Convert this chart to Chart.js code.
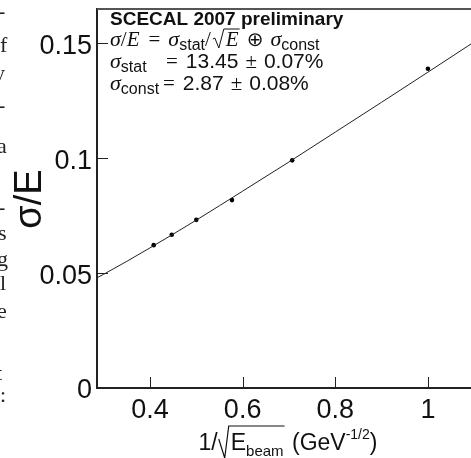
<!DOCTYPE html>
<html>
<head>
<meta charset="utf-8">
<script src="https://cdn.jsdelivr.net/npm/chart.js@4/dist/chart.umd.min.js"></script>
<style>
  html, body { margin: 0; padding: 0; background: #fff; }
</style>
</head>
<body>
<canvas id="myChart" width="471" height="458"></canvas>
<script>
// measured points: 1/sqrt(E_beam) for 6,5,4,3,2,1 GeV
const invSqrtE = [0.408, 0.447, 0.5, 0.577, 0.707, 1.0];
const resolution = [0.0622, 0.0667, 0.0732, 0.0818, 0.0991, 0.1390];

// fit curve
const fitX = [0.28, 0.3, 0.4, 0.5, 0.6, 0.7, 0.8, 0.9, 1.0, 1.1];
const fitY = [0.0474, 0.0495, 0.0610, 0.0731, 0.0857, 0.0984, 0.1114, 0.1244, 0.1375, 0.1507];

const xTicks = [0.4, 0.6, 0.8, 1.0];
const xTickLabels = ['0.4', '0.6', '0.8', '1'];
const yTicks = [0, 0.05, 0.1, 0.15];
const yTickLabels = ['0', '0.05', '0.1', '0.15'];

const SANS = '"Liberation Sans"';
const SERIF = '"Liberation Serif"';
const INK = '#111';

// draws a list of text pieces one after another, returns end x
const drawRun = (ctx, x, y, parts) => {
    parts.forEach((p) => {
        if (p.gap) { x += p.gap; return; }
        if (p.sqrt) {
            ctx.font = p.f;
            const w = ctx.measureText(p.sqrt).width;
            ctx.save();
            ctx.strokeStyle = INK;
            ctx.lineWidth = 1;
            ctx.beginPath();
            ctx.moveTo(x, y - 7);
            ctx.lineTo(x + 2, y - 8);
            ctx.lineTo(x + 6, y + 2);
            ctx.lineTo(x + 11, y - p.h);
            ctx.lineTo(x + 13 + w + 1, y - p.h);
            ctx.stroke();
            ctx.restore();
            ctx.fillText(p.sqrt, x + 13, y);
            x += 13 + w + 1;
            return;
        }
        ctx.font = p.f;
        ctx.fillText(p.t, x, y + (p.dy || 0));
        x += ctx.measureText(p.t).width;
    });
    return x;
};

const sigma = (sub) => [
    { t: 'σ', f: `italic 22px ${SERIF}` },
    { t: sub, f: `16px ${SANS}`, dy: 4 }
];

const drawDecor = (chart) => {
    const ctx = chart.ctx;
    const area = chart.chartArea;
    const xs = chart.scales.x;
    const ys = chart.scales.y;
    ctx.save();

    // top frame line
    ctx.strokeStyle = '#555';
    ctx.lineWidth = 2;
    ctx.beginPath();
    ctx.moveTo(area.left, area.top);
    ctx.lineTo(chart.width, area.top);
    ctx.stroke();

    // inward tick marks
    ctx.strokeStyle = '#222';
    ctx.lineWidth = 1;
    ctx.beginPath();
    xTicks.forEach((v) => {
        const px = Math.round(xs.getPixelForValue(v)) + 0.5;
        ctx.moveTo(px, area.bottom);
        ctx.lineTo(px, area.bottom - 11);
    });
    yTicks.slice(1).forEach((v) => {
        const py = Math.round(ys.getPixelForValue(v)) + 0.5;
        ctx.moveTo(area.left, py);
        ctx.lineTo(area.left + 11, py);
    });
    ctx.stroke();

    ctx.fillStyle = INK;
    ctx.textBaseline = 'alphabetic';
    ctx.textAlign = 'left';

    // legend text block
    ctx.font = `bold 19px ${SANS}`;
    ctx.fillText('SCECAL 2007 preliminary', 110, 25);

    const x0 = area.left + 13;
    drawRun(ctx, x0, 46, [
        { t: 'σ', f: `italic 22px ${SERIF}` },
        { t: '/', f: `21px ${SERIF}` },
        { t: 'E', f: `italic 21px ${SERIF}` },
        { gap: 9 }, { t: '=', f: `21px ${SERIF}` }, { gap: 8 },
        ...sigma('stat'),
        { t: '/', f: `21px ${SERIF}` }, { gap: 2 },
        { sqrt: 'E', f: `italic 21px ${SERIF}`, h: 17 },
        { gap: 7 }, { t: '⊕', f: `20px "DejaVu Sans"` }, { gap: 7 },
        ...sigma('const')
    ]);
    drawRun(ctx, x0, 68, sigma('stat'));
    drawRun(ctx, 166, 68, [
        { t: '=', f: `21px ${SERIF}` }, { gap: 8 },
        { t: '13.45', f: `21px ${SANS}` }, { gap: 7 },
        { t: '±', f: `21px ${SERIF}` }, { gap: 7 },
        { t: '0.07%', f: `21px ${SANS}` }
    ]);
    drawRun(ctx, x0, 90, sigma('const'));
    drawRun(ctx, 163, 90, [
        { t: '=', f: `21px ${SERIF}` }, { gap: 8 },
        { t: '2.87', f: `21px ${SANS}` }, { gap: 7 },
        { t: '±', f: `21px ${SERIF}` }, { gap: 7 },
        { t: '0.08%', f: `21px ${SANS}` }
    ]);

    // x axis title: 1/sqrt(E_beam) (GeV^-1/2)
    const titleParts = [
        { t: '1/', f: `23px ${SANS}` },
        { gap: 1 },
        { sqrtBeam: true },
        { t: ' (GeV', f: `23px ${SANS}` },
        { t: '-1/2', f: `14px ${SANS}`, dy: -11 },
        { t: ')', f: `23px ${SANS}` }
    ];
    ctx.font = `23px ${SANS}`;
    const wE = ctx.measureText('E').width;
    ctx.font = `15px ${SANS}`;
    const wBeam = ctx.measureText('beam').width;
    let total = 0;
    titleParts.forEach((p) => {
        if (p.gap) total += p.gap;
        else if (p.sqrtBeam) total += 12 + wE + wBeam + 2;
        else { ctx.font = p.f; total += ctx.measureText(p.t).width; }
    });
    let tx = 288 - total / 2;
    const ty = 450;
    titleParts.forEach((p) => {
        if (p.gap) { tx += p.gap; return; }
        if (p.sqrtBeam) {
            ctx.strokeStyle = INK;
            ctx.lineWidth = 1.2;
            ctx.beginPath();
            ctx.moveTo(tx, ty - 11);
            ctx.lineTo(tx + 6, ty + 8);
            ctx.lineTo(tx + 10, ty - 24);
            ctx.lineTo(tx + 12 + wE + wBeam + 1, ty - 24);
            ctx.stroke();
            ctx.font = `23px ${SANS}`;
            ctx.fillText('E', tx + 12, ty);
            ctx.font = `15px ${SANS}`;
            ctx.fillText('beam', tx + 12 + wE, ty + 6);
            tx += 12 + wE + wBeam + 2;
            return;
        }
        ctx.font = p.f;
        ctx.fillText(p.t, tx, ty + (p.dy || 0));
        tx += ctx.measureText(p.t).width;
    });

    // y axis title
    ctx.save();
    ctx.translate(31, 199);
    ctx.rotate(-Math.PI / 2);
    ctx.textAlign = 'center';
    ctx.textBaseline = 'middle';
    ctx.font = `38px ${SANS}`;
    ctx.fillText('σ/E', 0, 0);
    ctx.restore();

    // clipped text of the neighbouring column
    ctx.font = `22px ${SERIF}`;
    ctx.fillStyle = '#222';
    ctx.textAlign = 'left';
    [['-', -2, 18], ['f', 0, 52], ['y', -6, 80], ['-', -2, 112],
     ['a', -3, 153], ['-', -2, 214], ['s', -2, 240], ['g', -3, 266],
     ['l', 0, 290], ['e', -3, 318], ['t', -4, 380], [':', 0, 402]]
        .forEach(([ch, x, y]) => ctx.fillText(ch, x, y));

    ctx.restore();
};

const ctx = document.getElementById('myChart').getContext('2d');

new Chart(ctx, {
    type: 'scatter',
    data: {
        datasets: [
            {
                label: 'fit',
                data: fitX.map((x, i) => ({ x: x, y: fitY[i] })),
                showLine: true,
                borderColor: '#222',
                borderWidth: 1,
                pointRadius: 0,
                cubicInterpolationMode: 'monotone'
            },
            {
                label: 'data',
                data: invSqrtE.map((x, i) => ({ x: x, y: resolution[i] })),
                pointRadius: 2.3,
                pointBackgroundColor: '#000',
                pointBorderColor: '#000',
                pointBorderWidth: 0
            }
        ]
    },
    options: {
        responsive: false,
        animation: false,
        layout: { autoPadding: false, padding: { top: 9, right: 0, left: 0, bottom: 0 } },
        plugins: {
            legend: { display: false },
            tooltip: { enabled: false }
        },
        scales: {
            x: {
                type: 'linear',
                min: 0.2856,
                max: 1.093,
                afterBuildTicks: (scale) => { scale.ticks = xTicks.map((v) => ({ value: v })); },
                afterFit: (scale) => {
                    scale.height = 70;
                    scale.paddingLeft = 0;
                    scale.paddingRight = 0;
                },
                grid: { display: false, drawTicks: false },
                border: { display: true, color: '#222', width: 2 },
                ticks: {
                    padding: 6,
                    maxRotation: 0,
                    color: INK,
                    font: { family: 'Liberation Sans', size: 27 },
                    callback: (v, i) => xTickLabels[i]
                }
            },
            y: {
                type: 'linear',
                min: 0,
                max: 0.165,
                afterBuildTicks: (scale) => { scale.ticks = yTicks.map((v) => ({ value: v })); },
                afterFit: (scale) => {
                    scale.width = 97;
                    scale.paddingTop = 0;
                    scale.paddingBottom = 0;
                },
                grid: { display: false, drawTicks: false },
                border: { display: true, color: '#222', width: 2 },
                ticks: {
                    padding: 5,
                    labelOffset: 3,
                    color: INK,
                    font: { family: 'Liberation Sans', size: 27 },
                    callback: (v, i) => yTickLabels[i]
                }
            }
        }
    },
    plugins: [{ id: 'decor', afterDraw: drawDecor }]
});
</script>
</body>
</html>
